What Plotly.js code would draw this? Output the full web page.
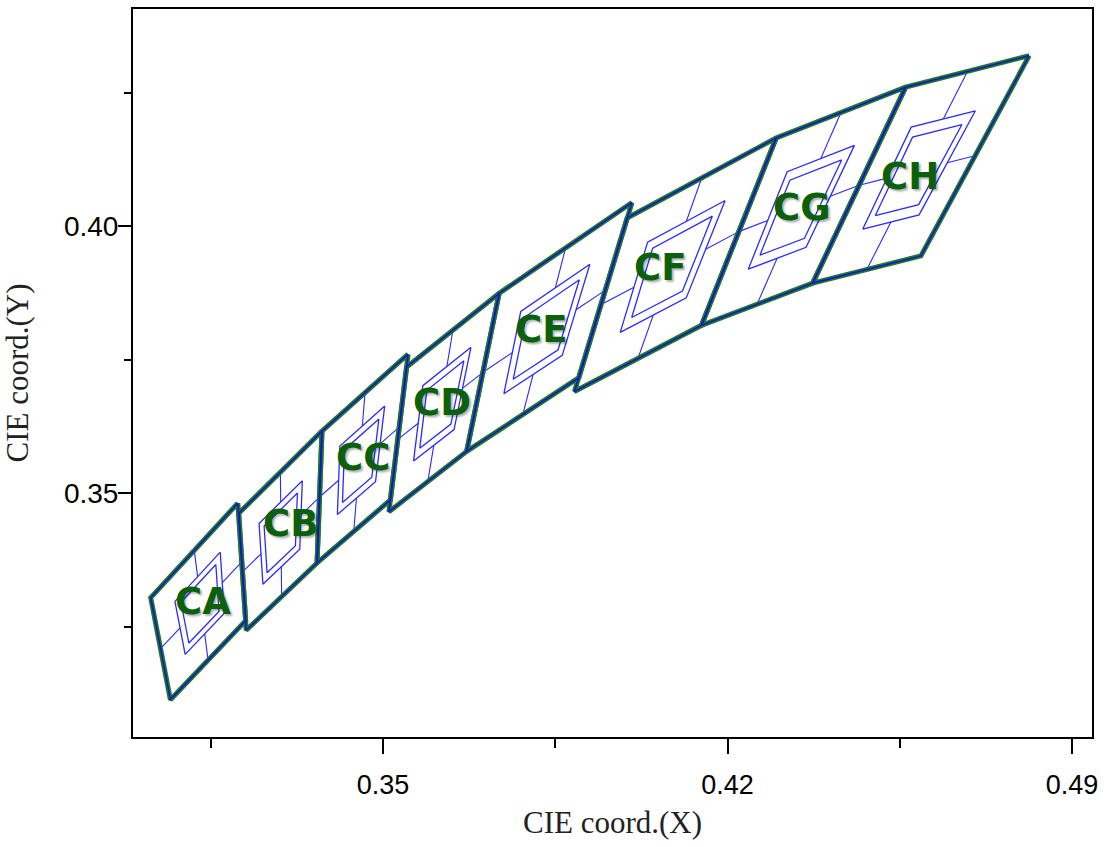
<!DOCTYPE html>
<html>
<head>
<meta charset="utf-8">
<script src="https://cdn.plot.ly/plotly-3.0.1.min.js"></script>
<style>html,body{margin:0;padding:0;background:#fff;}</style>
</head>
<body>
<div id="chart" style="width:1107px;height:847px;"></div>
<script>
// Bin names and quadrangle corners (CIE x, y)
const binNames = ['CA','CB','CC','CD','CE','CF','CG','CH'];
const trX = [0.3205,0.3376,0.3551,0.3736,0.4006,0.4299,0.4562,0.4813];
const trY = [0.3481,0.3616,0.3760,0.3874,0.4044,0.4165,0.4260,0.4319];
const tlX = [0.3028,0.3207,0.3376,0.3548,0.3736,0.3996,0.4299,0.4562];
const tlY = [0.3304,0.3462,0.3616,0.3736,0.3874,0.4015,0.4165,0.4260];
const blX = [0.3068,0.3222,0.3366,0.3512,0.3670,0.3889,0.4147,0.4373];
const blY = [0.3113,0.3243,0.3369,0.3465,0.3578,0.3690,0.3814,0.3893];
const brX = [0.3221,0.3366,0.3515,0.3670,0.3898,0.4147,0.4373,0.4593];
const brY = [0.3261,0.3369,0.3487,0.3578,0.3716,0.3814,0.3893,0.3944];
// label positions
const labelX = [0.3134,0.3313,0.3459,0.3620,0.3821,0.4063,0.4351,0.4571];
const labelY = [0.3296,0.3442,0.3566,0.3669,0.3807,0.3923,0.4034,0.4092];
// axis ticks
const xTicks = [0.35,0.42,0.49];
const yTicks = [0.35,0.40];

const outerScale = 0.52, innerScale = 0.40;

const ox=[], oy=[], mx=[], my=[], qx=[], qy=[];
for (let i=0;i<binNames.length;i++){
  const P = [[trX[i],trY[i]],[tlX[i],tlY[i]],[blX[i],blY[i]],[brX[i],brY[i]]];
  P.forEach(p=>{ox.push(p[0]); oy.push(p[1]);});
  ox.push(P[0][0], null); oy.push(P[0][1], null);
  const cx=(P[0][0]+P[1][0]+P[2][0]+P[3][0])/4;
  const cy=(P[0][1]+P[1][1]+P[2][1]+P[3][1])/4;
  [outerScale, innerScale].forEach(s=>{
    P.forEach(p=>{qx.push(cx+s*(p[0]-cx)); qy.push(cy+s*(p[1]-cy));});
    qx.push(cx+s*(P[0][0]-cx), null); qy.push(cy+s*(P[0][1]-cy), null);
  });
  for (let k=0;k<4;k++){
    const a=P[k], b=P[(k+1)%4];
    const m=[(a[0]+b[0])/2,(a[1]+b[1])/2];
    mx.push(m[0], cx+outerScale*(m[0]-cx), null);
    my.push(m[1], cy+outerScale*(m[1]-cy), null);
  }
}

const blue = '#2a2aff';
const data = [
  {x:mx, y:my, mode:'lines', type:'scatter', line:{color:blue, width:1.1}, hoverinfo:'skip'},
  {x:qx, y:qy, mode:'lines', type:'scatter', line:{color:blue, width:1.3}, hoverinfo:'skip'},
  {x:ox, y:oy, mode:'lines', type:'scatter', line:{color:'#1f7a1f', width:5}, hoverinfo:'skip'},
  {x:ox, y:oy, mode:'lines', type:'scatter', line:{color:'#1414d8', width:1.6}, hoverinfo:'skip'}
];

const annotations = binNames.map((n,i)=>({
  x:labelX[i], y:labelY[i], xref:'x', yref:'y', text:'<b>'+n+'</b>', showarrow:false,
  xanchor:'center', yanchor:'middle',
  font:{family:'DejaVu Sans, Verdana, sans-serif', size:37, color:'#0b600b', shadow:'2px 2px 2px rgba(0,0,0,0.3)'}
}));

const layout = {
  width:1107, height:847,
  margin:{l:133, r:15, t:9, b:110, pad:0},
  paper_bgcolor:'#ffffff', plot_bgcolor:'#ffffff',
  showlegend:false,
  xaxis:{
    range:[0.2992,0.49406], tickmode:'array', tickvals:xTicks, ticktext:xTicks.map(v=>v.toFixed(2)),
    ticks:'outside', ticklen:15, tickwidth:2, tickcolor:'#000',
    showline:true, linewidth:2, linecolor:'#000', mirror:true,
    showgrid:false, zeroline:false,
    minor:{tickmode:'linear', tick0:0.315, dtick:0.07, ticks:'outside', ticklen:9, tickwidth:2, tickcolor:'#000', showgrid:false},
    tickfont:{family:'Liberation Sans, Arial, sans-serif', size:27, color:'#000'},
    ticklabelstandoff:8,
    title:{text:'CIE coord.(X)', font:{family:'Liberation Serif, Times New Roman, serif', size:31, color:'#222'}, standoff:12}
  },
  yaxis:{
    range:[0.30431,0.44064], tickmode:'array', tickvals:yTicks, ticktext:yTicks.map(v=>v.toFixed(2)),
    ticks:'outside', ticklen:13, tickwidth:2, tickcolor:'#000',
    showline:true, linewidth:2, linecolor:'#000', mirror:true,
    showgrid:false, zeroline:false,
    minor:{tickmode:'linear', tick0:0.325, dtick:0.05, ticks:'outside', ticklen:7, tickwidth:2, tickcolor:'#000', showgrid:false},
    tickfont:{family:'Liberation Sans, Arial, sans-serif', size:28, color:'#000'},
    ticklabelstandoff:-6,
    title:{text:'CIE coord.(Y)', font:{family:'Liberation Serif, Times New Roman, serif', size:31, color:'#222'}, standoff:26}
  },
  annotations:annotations
};

Plotly.newPlot('chart', data, layout, {staticPlot:true, displayModeBar:false});
</script>
</body>
</html>
